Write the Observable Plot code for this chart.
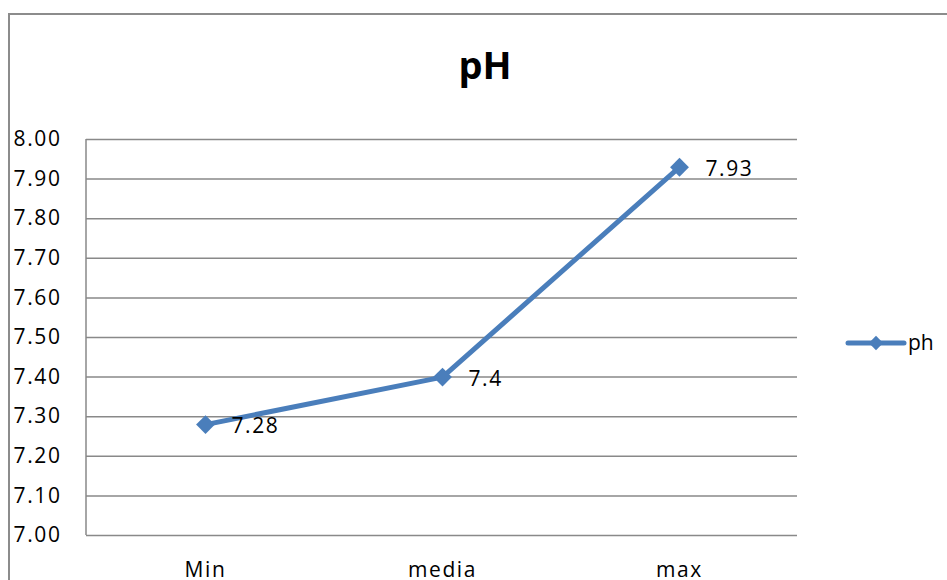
<!DOCTYPE html>
<html>
<head>
<meta charset="utf-8">
<script src="https://cdn.jsdelivr.net/npm/d3@7"></script>
<script src="https://cdn.jsdelivr.net/npm/@observablehq/plot@0.6"></script>
<style>
  html, body { margin: 0; padding: 0; background: #fff; }
  #wrap { position: relative; width: 947px; height: 580px; overflow: hidden; background: #fff; }
  #border { position: absolute; left: 8px; top: 13px; width: 3000px; height: 3000px;
            border-left: 2px solid #8c8c8c; border-top: 2px solid #8c8c8c; box-sizing: border-box; }
  #chart { position: absolute; left: 0; top: 0; }
  #chart svg text { letter-spacing: 1.6px; }
  #overlay { position: absolute; left: 0; top: 0; pointer-events: none; }
</style>
</head>
<body>
<div id="wrap">
  <div id="border"></div>
  <div id="chart"></div>
  <div id="overlay"></div>
</div>
<script>
// Chart values
const categories = ["Min", "media", "max"];
const phValues = [7.28, 7.4, 7.93];
const yTicks = [7.0, 7.1, 7.2, 7.3, 7.4, 7.5, 7.6, 7.7, 7.8, 7.9, 8.0];
const seriesName = "ph";
const titleText = "pH";

const lineColor = "#4a7ebb";
const font = "'Open Sans', sans-serif";

const rows = categories.map((c, i) => ({category: c, value: phValues[i]}));

// Vertical line along the left edge of the plotting area
function leftEdge(index, scales, values, dim) {
  const x = dim.marginLeft;
  return d3.create("svg:line")
    .attr("x1", x).attr("x2", x)
    .attr("y1", dim.marginTop).attr("y2", dim.height - dim.marginBottom)
    .attr("stroke", "#898989").attr("stroke-width", 1.5)
    .node();
}

const chart = Plot.plot({
  width: 947,
  height: 580,
  marginLeft: 86,
  marginRight: 150,
  marginTop: 139,
  marginBottom: 45,
  style: {fontFamily: font, fontSize: "21px", color: "#000", background: "transparent"},
  x: {type: "point", domain: categories, padding: 0.5, label: null},
  y: {domain: [7, 8], label: null},
  marks: [
    Plot.ruleY(yTicks, {stroke: "#898989", strokeWidth: 1.5}),
    leftEdge,
    Plot.axisY(yTicks, {tickSize: 0, tickPadding: 25, tickFormat: d3.format(".2f"), fontSize: 21}),
    Plot.axisX({tickSize: 0, tickPadding: 27, fontSize: 21}),
    Plot.line(rows, {x: "category", y: "value", stroke: lineColor, strokeWidth: 5}),
    Plot.dot(rows, {x: "category", y: "value", symbol: "diamond2", r: 8.5, fill: lineColor, stroke: "none"}),
    Plot.text(rows, {x: "category", y: "value", text: d => String(d.value),
                     dx: 26, dy: 2, textAnchor: "start", fontSize: 21, fill: "#000"})
  ]
});
document.getElementById("chart").appendChild(chart);

// Title and legend layer
const overlay = d3.select("#overlay").append("svg")
  .attr("width", 947).attr("height", 580);

overlay.append("text")
  .attr("x", 485).attr("y", 79)
  .attr("text-anchor", "middle")
  .attr("font-family", font).attr("font-weight", "bold").attr("font-size", 38)
  .attr("fill", "#000")
  .text(titleText);

const legend = overlay.append("g").attr("transform", "translate(848,343)");
legend.append("line")
  .attr("x1", 0).attr("x2", 56).attr("y1", 0).attr("y2", 0)
  .attr("stroke", lineColor).attr("stroke-width", 5).attr("stroke-linecap", "round");
legend.append("path")
  .attr("transform", "translate(28,0)")
  .attr("d", d3.symbol(d3.symbolDiamond2, 130)())
  .attr("fill", lineColor);
legend.append("text")
  .attr("x", 60).attr("y", 7)
  .attr("font-family", font).attr("font-size", 21)
  .attr("fill", "#000")
  .text(seriesName);
</script>
</body>
</html>
